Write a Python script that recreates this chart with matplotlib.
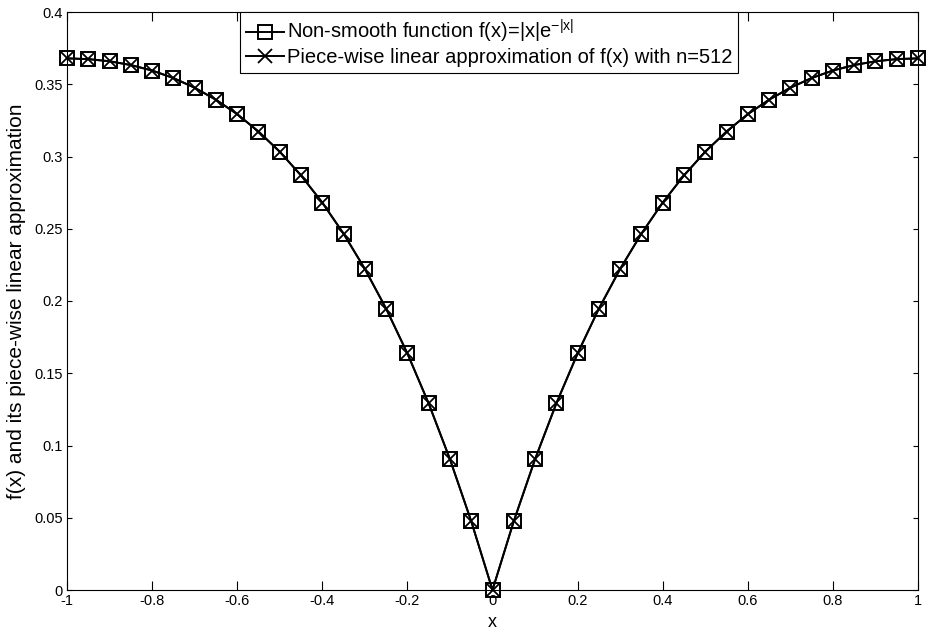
import matplotlib
matplotlib.use("Agg")
import matplotlib.pyplot as plt

plt.rcParams['font.family'] = ['Liberation Sans', 'DejaVu Sans']
plt.rcParams['mathtext.fontset'] = 'custom'
plt.rcParams['mathtext.rm'] = 'Liberation Sans'
plt.rcParams['mathtext.it'] = 'Liberation Sans'

x_pos = [0.0, 0.05, 0.10, 0.15, 0.20, 0.25, 0.30, 0.35, 0.40, 0.45, 0.50,
         0.55, 0.60, 0.65, 0.70, 0.75, 0.80, 0.85, 0.90, 0.95, 1.00]
y_pos = [0.0, 0.0476, 0.0905, 0.1291, 0.1637, 0.1947, 0.2222, 0.2466, 0.2681,
         0.2869, 0.3033, 0.3173, 0.3293, 0.3393, 0.3476, 0.3543, 0.3595,
         0.3633, 0.3659, 0.3674, 0.3679]

x_vals = [-v for v in x_pos[:0:-1]] + x_pos
y_vals = y_pos[:0:-1] + y_pos

xticks = [-1, -0.8, -0.6, -0.4, -0.2, 0, 0.2, 0.4, 0.6, 0.8, 1]
xtick_labels = ['-1', '-0.8', '-0.6', '-0.4', '-0.2', '0', '0.2', '0.4', '0.6', '0.8', '1']
yticks = [0, 0.05, 0.1, 0.15, 0.2, 0.25, 0.3, 0.35, 0.4]
ytick_labels = ['0', '0.05', '0.1', '0.15', '0.2', '0.25', '0.3', '0.35', '0.4']

fig = plt.figure(figsize=(9.27, 6.34), dpi=100)
ax = fig.add_axes([67/927, 44/634, 851/927, 578/634])

ax.plot(x_vals, y_vals, color='black', lw=1.4, marker='s', ms=10.5,
        mfc='none', mec='black', mew=1.4, clip_on=False, zorder=3,
        label='Non-smooth function f(x)=|x|e$^{-|x|}$')
ax.plot(x_vals, y_vals, color='black', lw=1.4, marker='x', ms=9.5,
        mec='black', mew=1.3, clip_on=False, zorder=4,
        label='Piece-wise linear approximation of f(x) with n=512')

ax.set_xlim(-1, 1)
ax.set_ylim(0, 0.4)
ax.set_xticks(xticks)
ax.set_xticklabels(xtick_labels)
ax.set_yticks(yticks)
ax.set_yticklabels(ytick_labels)
ax.tick_params(direction='in', width=0.8, labelsize=10.5, top=True, right=True,
               colors='black')
ax.tick_params(axis='x', length=6.5, pad=3)
ax.tick_params(axis='y', length=3.8, pad=3)
for s in ax.spines.values():
    s.set_linewidth(0.8)

ax.set_xlabel('x', fontsize=13, labelpad=4)
ax.set_ylabel("f(x) and its piece-wise linear approximation", fontsize=15, labelpad=6)

leg = ax.legend(loc='upper center', bbox_to_anchor=(0.496, 1.0), fontsize=14.5,
                frameon=True, fancybox=False, edgecolor='black', framealpha=1,
                handlelength=1.9, handletextpad=0.15, borderpad=0.3,
                labelspacing=0.15, borderaxespad=0.0)
leg.get_frame().set_linewidth(0.8)

fig.savefig('out.png', dpi=100)
